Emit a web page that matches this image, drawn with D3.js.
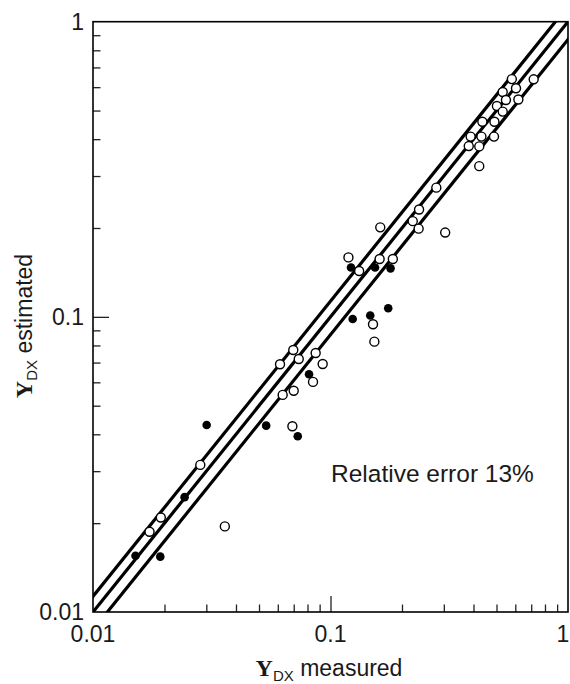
<!DOCTYPE html>
<html>
<head>
<meta charset="utf-8">
<script src="https://cdn.jsdelivr.net/npm/d3@7"></script>
<style>
  html, body { margin: 0; padding: 0; background: #fff; }
  svg { display: block; }
</style>
</head>
<body>
<svg id="chart" width="570" height="684"></svg>
<script>
// ---- data ----
const openX = [0.0173,0.0193,0.0283,0.0359,0.0613,0.0629,0.0691,0.0697,0.0700,0.0735,0.0844,0.0866,0.0927,0.119,0.132,0.151,0.153,0.161,0.162,0.183,0.222,0.235,0.236,0.279,0.304,0.382,0.389,0.423,0.423,0.432,0.436,0.488,0.490,0.502,0.531,0.531,0.548,0.580,0.604,0.618,0.717];
const openY = [0.0187,0.0209,0.0315,0.0195,0.0691,0.0544,0.0426,0.0772,0.0562,0.0720,0.0602,0.0754,0.0692,0.159,0.143,0.0944,0.0824,0.157,0.201,0.157,0.211,0.199,0.231,0.274,0.193,0.379,0.408,0.378,0.324,0.408,0.458,0.408,0.458,0.518,0.496,0.578,0.543,0.639,0.595,0.545,0.638];
const filledX = [0.0151,0.0192,0.0243,0.0301,0.0536,0.0728,0.0812,0.122,0.124,0.147,0.154,0.179,0.175];
const filledY = [0.0155,0.0154,0.0245,0.0430,0.0428,0.0394,0.0639,0.147,0.0983,0.101,0.147,0.146,0.107];
const bandFactors = [1.13, 1.0, 0.87];          // y = f * x  (relative error 13%)
const majorTicks = [0.01, 0.1, 1];
const majorTickLabels = ["0.01", "0.1", "1"];
const minorTicks = [0.02,0.03,0.04,0.05,0.06,0.07,0.08,0.09,0.2,0.3,0.4,0.5,0.6,0.7,0.8,0.9];
const annotation = "Relative error 13%";

// ---- layout ----
const W = 570, H = 684;
const m = { left: 93, right: 2, top: 21.7, bottom: 72 };
const svg = d3.select("#chart");
const x = d3.scaleLog().domain([0.01, 1]).range([m.left, W - m.right]);
const y = d3.scaleLog().domain([0.01, 1]).range([H - m.bottom, m.top]);
const sans = "'Liberation Sans', Arial, sans-serif";
const ink = "#1a1a1a";

svg.append("clipPath").attr("id", "plotclip")
  .append("rect")
  .attr("x", x(0.01)).attr("y", y(1))
  .attr("width", x(1) - x(0.01)).attr("height", y(0.01) - y(1));

// band lines
const lineGen = d3.line().x(d => x(d[0])).y(d => y(d[1]));
const g = svg.append("g").attr("clip-path", "url(#plotclip)");
bandFactors.forEach(f => {
  const pts = [[0.005, 0.005 * f], [2, 2 * f]];
  g.append("path")
    .attr("d", lineGen(pts))
    .attr("fill", "none")
    .attr("stroke", "#000")
    .attr("stroke-width", 3.2);
});

// ticks inside (left and bottom)
const xAxis = d3.axisTop(x).tickValues(minorTicks).tickSize(7.5).tickFormat("");
const xAxisMajor = d3.axisTop(x).tickValues([0.1]).tickSize(16).tickFormat("");
const yAxis = d3.axisRight(y).tickValues(minorTicks).tickSize(7.5).tickFormat("");
const yAxisMajor = d3.axisRight(y).tickValues([0.1]).tickSize(16).tickFormat("");
[[xAxis, `translate(0,${y(0.01)})`], [xAxisMajor, `translate(0,${y(0.01)})`],
 [yAxis, `translate(${x(0.01)},0)`], [yAxisMajor, `translate(${x(0.01)},0)`]].forEach(([ax, tr]) => {
  const a = svg.append("g").attr("transform", tr).call(ax);
  a.select(".domain").remove();
  a.selectAll("line").attr("stroke", "#222").attr("stroke-width", 1.3);
});

// frame
svg.append("rect")
  .attr("x", x(0.01)).attr("y", y(1))
  .attr("width", x(1) - x(0.01)).attr("height", y(0.01) - y(1))
  .attr("fill", "none").attr("stroke", "#000").attr("stroke-width", 1.6);

// tick labels
svg.append("g").selectAll("text").data(majorTicks).join("text")
  .attr("x", d => Math.min(x(d), W - 7)).attr("y", 642)
  .attr("text-anchor", "middle")
  .attr("font-family", sans).attr("font-size", 23).attr("fill", ink)
  .text((d, i) => majorTickLabels[i]);
svg.append("g").selectAll("text").data(majorTicks).join("text")
  .attr("x", 84).attr("y", d => y(d)).attr("dy", "0.36em")
  .attr("text-anchor", "end")
  .attr("font-family", sans).attr("font-size", 23).attr("fill", ink)
  .text((d, i) => majorTickLabels[i]);

// points
svg.append("g").selectAll("circle").data(openX.map((v, i) => [v, openY[i]])).join("circle")
  .attr("cx", d => x(d[0])).attr("cy", d => y(d[1])).attr("r", 4.5)
  .attr("fill", "#fff").attr("stroke", "#000").attr("stroke-width", 1.4);
svg.append("g").selectAll("circle").data(filledX.map((v, i) => [v, filledY[i]])).join("circle")
  .attr("cx", d => x(d[0])).attr("cy", d => y(d[1])).attr("r", 4.3)
  .attr("fill", "#000");

// annotation
svg.append("text").attr("x", 331).attr("y", 481.5)
  .attr("font-family", sans).attr("font-size", 24.5).attr("fill", ink)
  .text(annotation);

// axis titles
function title(sel, rest) {
  sel.append("tspan").attr("font-family", "'Liberation Serif', 'Times New Roman', serif")
    .attr("font-weight", "bold").attr("font-size", 24).text("Y");
  sel.append("tspan").attr("font-family", sans).attr("font-size", 15).attr("dy", 5).text("DX");
  sel.append("tspan").attr("font-family", sans).attr("font-size", 23).attr("dy", -5).text(" " + rest);
}
svg.append("text").attr("x", 329).attr("y", 676).attr("text-anchor", "middle").attr("fill", ink)
  .call(title, "measured");
svg.append("text").attr("transform", "translate(32,326) rotate(-90)").attr("text-anchor", "middle").attr("fill", ink)
  .call(title, "estimated");
</script>
</body>
</html>
